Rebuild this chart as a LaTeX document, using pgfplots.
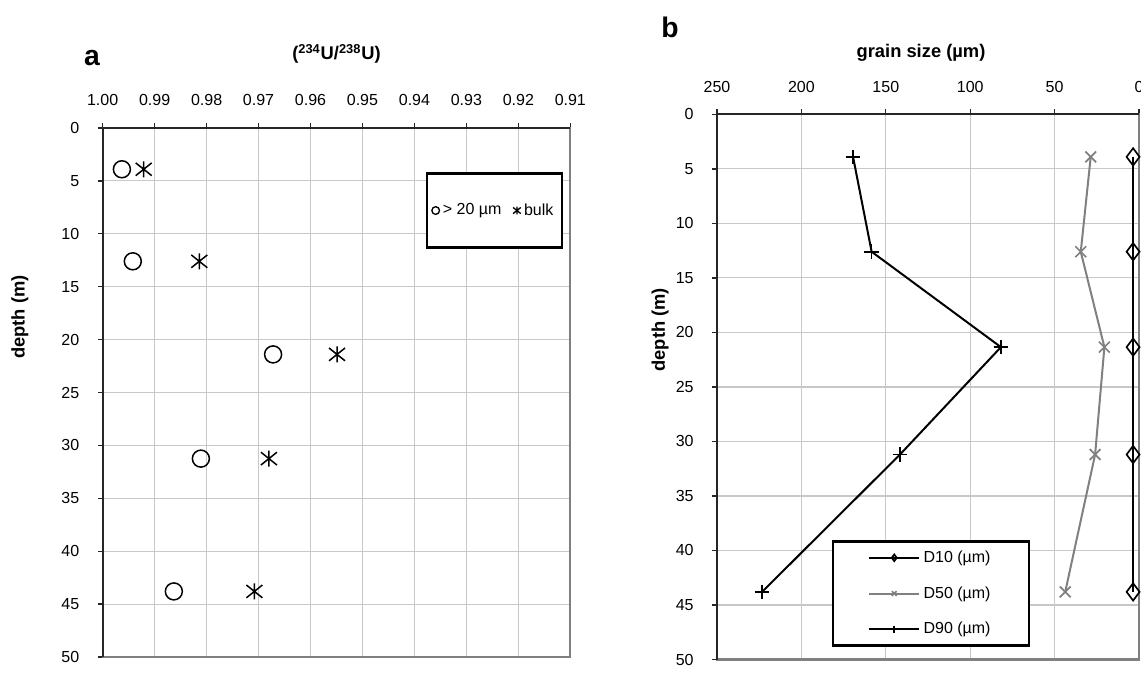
\documentclass[border=0pt]{standalone}
\usepackage{pgfplots}
\pgfplotsset{compat=1.18}
\usepackage{fontspec}
\setmainfont{Liberation Sans}
\pgfdeclareplotmark{xstar}{%
  \pgfpathmoveto{\pgfqpoint{-\pgfplotmarksize}{-0.8\pgfplotmarksize}}%
  \pgfpathlineto{\pgfqpoint{\pgfplotmarksize}{0.8\pgfplotmarksize}}%
  \pgfpathmoveto{\pgfqpoint{-\pgfplotmarksize}{0.8\pgfplotmarksize}}%
  \pgfpathlineto{\pgfqpoint{\pgfplotmarksize}{-0.8\pgfplotmarksize}}%
  \pgfpathmoveto{\pgfqpoint{0pt}{-\pgfplotmarksize}}%
  \pgfpathlineto{\pgfqpoint{0pt}{\pgfplotmarksize}}%
  \pgfusepathqstroke}
\definecolor{gridc}{RGB}{200,200,200}
\definecolor{framec}{RGB}{128,128,128}
\definecolor{d50c}{RGB}{128,128,128}
\pgfplotsset{
  excelbox/.style={
    scale only axis, anchor=south west,
    y dir=reverse, ymin=0, ymax=50,
    ytick={0,5,10,15,20,25,30,35,40,45,50},
    yticklabels={0,5,10,15,20,25,30,35,40,45,50},
    xtick pos=right, xticklabel pos=right, ytick pos=left,
    tick align=outside, major tick length=3pt,
    tick style={black!85, line width=0.8pt},
    grid=major, major grid style={draw=gridc, line width=0.7pt},
    axis line style={draw=framec, line width=1.3pt},
    ticklabel style={font=\fontsize{9.6}{11}\selectfont},
    xticklabel style={anchor=center, yshift=13.6pt},
    yticklabel style={anchor=east, xshift=-7.5pt},
    after end axis/.code={\draw[black!85, line width=1.2pt] (axis description cs:0,0) -- (axis description cs:0,1) -- (axis description cs:1,1);},
  }
}
\begin{document}
\begin{tikzpicture}
\path[use as bounding box] (0,0) rectangle (684.6pt,403.8pt);
% ---------------- panel a
\begin{axis}[excelbox,
  at={(61.6pt,9.6pt)}, width=280.6pt, height=317.4pt,
  xmin=0.91, xmax=1.00, x dir=reverse,
  xtick={0.91,0.92,0.93,0.94,0.95,0.96,0.97,0.98,0.99,1.00},
  xticklabels={0.91,0.92,0.93,0.94,0.95,0.96,0.97,0.98,0.99,1.00},
  legend columns=2,
  legend image code/.code={\draw[#1, mark size=2.3pt, line width=0.8pt] plot coordinates {(0pt,0pt)};},
  legend style={at={(axis description cs:0.8375,0.844)}, anchor=center,
    draw=black, line width=1.3pt, fill=white, inner xsep=3pt, inner ysep=16pt,
    font=\fontsize{9.6}{11}\selectfont,
    /tikz/every even column/.append style={column sep=5pt}},
]
\addplot[only marks, mark=o, mark size=5.1pt, line width=0.9pt, black]
  coordinates {(0.9963,3.9) (0.9942,12.6) (0.9672,21.4) (0.9811,31.25) (0.9863,43.8)};
\addlegendentry{> 20 µm}
\addplot[only marks, mark=xstar, mark size=4.8pt, line width=0.9pt, black]
  coordinates {(0.9921,3.9) (0.9814,12.6) (0.9549,21.4) (0.9680,31.25) (0.9708,43.8)};
\addlegendentry{bulk}
\end{axis}
% ---------------- panel b
\begin{axis}[excelbox,
  at={(430.2pt,8.1pt)}, width=253.2pt, height=327.1pt,
  xmin=0, xmax=250, x dir=reverse,
  xtick={0,50,100,150,200,250},
  xticklabels={0,50,100,150,200,250},
  legend image code/.code={\draw[mark repeat=2, mark phase=2, #1, mark size=2pt] plot coordinates {(0pt,0pt) (15pt,0pt) (30pt,0pt)};},
  legend style={at={(axis description cs:0.5073,0.121)}, anchor=center,
    draw=black, line width=1.3pt, fill=white, inner xsep=21pt, inner ysep=3.5pt,
    font=\fontsize{9.6}{11}\selectfont, row sep=9pt},
  legend cell align=left,
]
\addplot[black, line width=1.2pt, mark=diamond, mark size=5.2pt, mark options={fill=white, line width=1pt}]
  coordinates {(3.5,3.9) (3.5,12.6) (3.5,21.35) (3.5,31.2) (3.5,43.8)};
\addlegendentry{D10 (µm)}
\addplot[d50c, line width=1.2pt, mark=x, mark size=4.6pt, mark options={line width=1pt}]
  coordinates {(28.6,3.9) (34.5,12.6) (20.5,21.35) (26,31.2) (43.7,43.8)};
\addlegendentry{D50 (µm)}
\addplot[black, line width=1.2pt, mark=+, mark size=4.4pt, mark options={line width=1pt}]
  coordinates {(169.4,3.9) (158.4,12.6) (81.8,21.35) (141.6,31.2) (223.3,43.8)};
\addlegendentry{D90 (µm)}
\end{axis}
% ---------------- texts
\node[font=\fontsize{17}{20}\bfseries\selectfont] at (55.2pt,369pt) {a};
\node[font=\fontsize{11}{13}\bfseries\selectfont] at (201.9pt,371.4pt) {(\textsuperscript{234}U/\textsuperscript{238}U)};
\node[font=\fontsize{17}{20}\bfseries\selectfont] at (402pt,387.6pt) {b};
\node[font=\fontsize{11}{13}\bfseries\selectfont] at (552.6pt,372pt) {grain size (µm)};
\node[font=\fontsize{11}{13}\bfseries\selectfont, rotate=90] at (12pt,213.6pt) {depth (m)};
\node[font=\fontsize{11}{13}\bfseries\selectfont, rotate=90] at (396pt,206pt) {depth (m)};
\end{tikzpicture}
\end{document}
